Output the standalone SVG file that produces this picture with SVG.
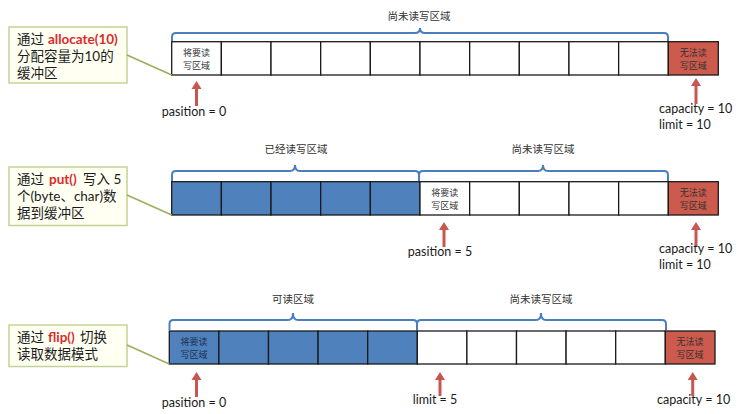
<svg xmlns="http://www.w3.org/2000/svg" width="740" height="414" viewBox="0 0 740 414">
<defs>
<style>
.box{fill:#fffff2;stroke:#c3d395;stroke-width:1.5}
.bt{font-family:Lato,"Noto Sans CJK SC",sans-serif;font-size:13.5px;fill:#1a1a1a}
.red{fill:#d82b2b;font-weight:bold;font-family:Lato,"Liberation Sans",sans-serif;font-size:13.5px}
.cell{fill:#ffffff;stroke:#1a1a1a;stroke-width:1.3}
.blue{fill:#4f81bd;stroke:#1a1a1a;stroke-width:1.3}
.rc{fill:#cc5a4d;stroke:#1a1a1a;stroke-width:1.3}
.ct{font-family:"Noto Sans CJK SC",sans-serif;font-size:9px;fill:#333;text-anchor:middle}
.ctb{font-family:"Noto Sans CJK SC",sans-serif;font-size:9px;fill:#1e2f4a;text-anchor:middle}
.lab{font-family:"Noto Sans CJK SC",sans-serif;font-size:10.5px;fill:#333;text-anchor:middle}
.val{font-family:Lato,"Liberation Sans",sans-serif;font-size:12.5px;fill:#1a1a1a}
.brace{fill:none;stroke:#4a7ebf;stroke-width:2}
.call{stroke:#9aae5a;stroke-width:1.5}
.arr{stroke:#c8564f;stroke-width:3}
.ah{fill:#c8564f}
</style>
</defs>
<rect width="740" height="414" fill="#ffffff"/>

<!-- Row 1 -->
<g id="box1">
<rect class="box" x="9" y="27" width="118" height="56"/>
<text class="bt" x="17" y="44">通过</text>
<text class="red" x="48" y="44">allocate(10)</text>
<text class="bt" x="17" y="61">分配容量为10的</text>
<text class="bt" x="17" y="78">缓冲区</text>
</g>
<g id="buffer1">
<rect class="cell" x="171.7" y="41.7" width="49.66" height="33.3"/>
<rect class="cell" x="221.36" y="41.7" width="49.66" height="33.3"/>
<rect class="cell" x="271.02" y="41.7" width="49.66" height="33.3"/>
<rect class="cell" x="320.68" y="41.7" width="49.66" height="33.3"/>
<rect class="cell" x="370.34" y="41.7" width="49.66" height="33.3"/>
<rect class="cell" x="420" y="41.7" width="49.66" height="33.3"/>
<rect class="cell" x="469.66" y="41.7" width="49.66" height="33.3"/>
<rect class="cell" x="519.32" y="41.7" width="49.66" height="33.3"/>
<rect class="cell" x="568.98" y="41.7" width="49.66" height="33.3"/>
<rect class="cell" x="618.64" y="41.7" width="49.66" height="33.3"/>
<rect class="rc" x="668.3" y="41.7" width="50" height="33.3"/>
<text class="ct" x="196.5" y="55.5">将要读</text>
<text class="ct" x="196.5" y="68.5">写区域</text>
<text class="ct" x="693.3" y="55.5">无法读</text>
<text class="ct" x="693.3" y="68.5">写区域</text>
</g>
<g id="labels1">
<text class="lab" x="419" y="20">尚未读写区域</text>
<text class="val" x="194" y="116" text-anchor="middle">pasition = 0</text>
<text class="val" x="659" y="113">capacity = 10</text>
<text class="val" x="659" y="129">limit = 10</text>
</g>

<!-- Row 2 -->
<g id="box2">
<rect class="box" x="9" y="167" width="118" height="58.5"/>
<text class="bt" x="17" y="184">通过</text>
<text class="red" x="49" y="184">put()</text>
<text class="bt" x="83" y="184">写入 5</text>
<text class="bt" x="17" y="201">个(byte、char)数</text>
<text class="bt" x="17" y="218">据到缓冲区</text>
</g>
<g id="buffer2">
<rect class="blue" x="171.7" y="181.7" width="49.66" height="33.3"/>
<rect class="blue" x="221.36" y="181.7" width="49.66" height="33.3"/>
<rect class="blue" x="271.02" y="181.7" width="49.66" height="33.3"/>
<rect class="blue" x="320.68" y="181.7" width="49.66" height="33.3"/>
<rect class="blue" x="370.34" y="181.7" width="49.66" height="33.3"/>
<rect class="cell" x="420" y="181.7" width="49.66" height="33.3"/>
<rect class="cell" x="469.66" y="181.7" width="49.66" height="33.3"/>
<rect class="cell" x="519.32" y="181.7" width="49.66" height="33.3"/>
<rect class="cell" x="568.98" y="181.7" width="49.66" height="33.3"/>
<rect class="cell" x="618.64" y="181.7" width="49.66" height="33.3"/>
<rect class="rc" x="668.3" y="181.7" width="50" height="33.3"/>
<text class="ct" x="444.8" y="195.5">将要读</text>
<text class="ct" x="444.8" y="208.5">写区域</text>
<text class="ct" x="693.3" y="195.5">无法读</text>
<text class="ct" x="693.3" y="208.5">写区域</text>
</g>
<g id="labels2">
<text class="lab" x="296" y="153">已经读写区域</text>
<text class="lab" x="543" y="153">尚未读写区域</text>
<text class="val" x="440" y="256" text-anchor="middle">pasition = 5</text>
<text class="val" x="659" y="253">capacity = 10</text>
<text class="val" x="659" y="269">limit = 10</text>
</g>

<!-- Row 3 -->
<g id="box3">
<rect class="box" x="9" y="325" width="118" height="41.5"/>
<text class="bt" x="17" y="342">通过</text>
<text class="red" x="48" y="342">flip()</text>
<text class="bt" x="80" y="342">切换</text>
<text class="bt" x="17" y="359">读取数据模式</text>
</g>
<g id="buffer3">
<rect class="blue" x="169.3" y="331" width="49.6" height="33"/>
<rect class="blue" x="218.9" y="331" width="49.6" height="33"/>
<rect class="blue" x="268.5" y="331" width="49.6" height="33"/>
<rect class="blue" x="318.1" y="331" width="49.6" height="33"/>
<rect class="blue" x="367.7" y="331" width="49.6" height="33"/>
<rect class="cell" x="417.3" y="331" width="49.6" height="33"/>
<rect class="cell" x="466.9" y="331" width="49.6" height="33"/>
<rect class="cell" x="516.5" y="331" width="49.6" height="33"/>
<rect class="cell" x="566.1" y="331" width="49.6" height="33"/>
<rect class="cell" x="615.7" y="331" width="49.6" height="33"/>
<rect class="rc" x="665.3" y="331" width="49.7" height="33"/>
<text class="ctb" x="194" y="344.5">将要读</text>
<text class="ctb" x="194" y="357.5">写区域</text>
<text class="ct" x="690" y="344.5">无法读</text>
<text class="ct" x="690" y="357.5">写区域</text>
</g>
<g id="labels3">
<text class="lab" x="293" y="303">可读区域</text>
<text class="lab" x="541" y="303">尚未读写区域</text>
<text class="val" x="194" y="407" text-anchor="middle">pasition = 0</text>
<text class="val" x="435" y="404" text-anchor="middle">limit = 5</text>
<text class="val" x="657" y="404">capacity = 10</text>
</g>

<!-- Connectors -->
<g id="connectors">
<line class="call" x1="127" y1="55" x2="171.7" y2="75"/>
<line class="call" x1="127" y1="195" x2="171.7" y2="215"/>
<line class="call" x1="127" y1="345" x2="169.3" y2="364"/>

<path class="brace" d="M172,41 V37 Q172,33 176,33 H415 Q420,33 420,28 Q420,33 425,33 H664 Q668,33 668,37 V41"/>
<path class="brace" d="M172,181 V175 Q172,171 176,171 H290 Q295,171 295,165 Q295,171 300,171 H415 Q419,171 419,175 V181"/>
<path class="brace" d="M419,181 V175 Q419,171 423,171 H538 Q543,171 543,165 Q543,171 548,171 H664 Q668,171 668,175 V181"/>
<path class="brace" d="M169.5,330 V324 Q169.5,320 173.5,320 H288 Q293,320 293,313 Q293,320 298,320 H413 Q417,320 417,324 V330"/>
<path class="brace" d="M417,330 V324 Q417,320 421,320 H536 Q541,320 541,313 Q541,320 546,320 H662 Q666,320 666,324 V330"/>

<line class="arr" x1="196.5" y1="88" x2="196.5" y2="106"/>
<polygon class="ah" points="196.5,81 191.5,89 201.5,89"/>
<line class="arr" x1="696" y1="85" x2="696" y2="104"/>
<polygon class="ah" points="696,78 691,86 701,86"/>

<line class="arr" x1="444" y1="229" x2="444" y2="247"/>
<polygon class="ah" points="444,222 439,230 449,230"/>
<line class="arr" x1="696" y1="229" x2="696" y2="246"/>
<polygon class="ah" points="696,222 691,230 701,230"/>

<line class="arr" x1="196.5" y1="379" x2="196.5" y2="397"/>
<polygon class="ah" points="196.5,372 191.5,380 201.5,380"/>
<line class="arr" x1="440" y1="379" x2="440" y2="396"/>
<polygon class="ah" points="440,372 435,380 445,380"/>
<line class="arr" x1="692.7" y1="379" x2="692.7" y2="396"/>
<polygon class="ah" points="692.7,372 687.7,380 697.7,380"/>
</g>
</svg>
